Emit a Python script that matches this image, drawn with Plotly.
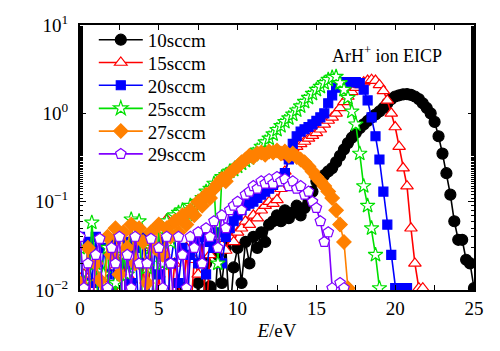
import plotly.graph_objects as go

# Energy grid (eV)
E = [0.0, 0.25, 0.5, 0.75, 1.0, 1.25, 1.5, 1.75, 2.0, 2.25,
     2.5, 2.75, 3.0, 3.25, 3.5, 3.75, 4.0, 4.25, 4.5, 4.75,
     5.0, 5.25, 5.5, 5.75, 6.0, 6.25, 6.5, 6.75, 7.0, 7.25,
     7.5, 7.75, 8.0, 8.25, 8.5, 8.75, 9.0, 9.25, 9.5, 9.75,
     10.0, 10.25, 10.5, 10.75, 11.0, 11.25, 11.5, 11.75, 12.0, 12.25,
     12.5, 12.75, 13.0, 13.25, 13.5, 13.75, 14.0, 14.25, 14.5, 14.75,
     15.0, 15.25, 15.5, 15.75, 16.0, 16.25, 16.5, 16.75, 17.0, 17.25,
     17.5, 17.75, 18.0, 18.25, 18.5, 18.75, 19.0, 19.25, 19.5, 19.75,
     20.0, 20.25, 20.5, 20.75, 21.0, 21.25, 21.5, 21.75, 22.0, 22.25,
     22.5, 22.75, 23.0, 23.25, 23.5, 23.75, 24.0, 24.25, 24.5, 24.75,
     25.0]

# 0.005 = zero signal (below the axis range)
y_10sccm = [0.005, 0.005, 0.005, 0.005, 0.005, 0.005, 0.005, 0.005, 0.005, 0.005,
            0.005, 0.005, 0.005, 0.005, 0.005, 0.005, 0.005, 0.005, 0.005, 0.005,
            0.005, 0.005, 0.005, 0.005, 0.005, 0.005, 0.0105, 0.005, 0.005, 0.005,
            0.012, 0.005, 0.02, 0.011, 0.005, 0.025, 0.012, 0.03, 0.005, 0.018,
            0.03, 0.012, 0.035, 0.02, 0.04, 0.03, 0.045, 0.035, 0.055, 0.06,
            0.07, 0.06, 0.08, 0.065, 0.075, 0.09, 0.07, 0.085, 0.1, 0.13,
            0.17, 0.19, 0.2, 0.22, 0.24, 0.28, 0.33, 0.39, 0.46, 0.53,
            0.6, 0.68, 0.75, 0.82, 0.9, 0.97, 1.05, 1.15, 1.3, 1.45,
            1.55, 1.6, 1.64, 1.65, 1.62, 1.55, 1.45, 1.3, 1.15, 1.0,
            0.8, 0.55, 0.35, 0.21, 0.12, 0.06, 0.037, 0.037, 0.022, 0.02,
            0.0105]

y_15sccm = [0.005, 0.015, 0.005, 0.005, 0.02, 0.005, 0.012, 0.005, 0.005, 0.018,
            0.005, 0.025, 0.005, 0.013, 0.005, 0.005, 0.02, 0.005, 0.03, 0.005,
            0.015, 0.005, 0.063, 0.005, 0.02, 0.012, 0.005, 0.03, 0.005, 0.022,
            0.015, 0.035, 0.005, 0.025, 0.04, 0.03, 0.032, 0.028, 0.04, 0.035,
            0.045, 0.05, 0.06, 0.055, 0.07, 0.065, 0.08, 0.09, 0.1, 0.095,
            0.105, 0.14, 0.22, 0.32, 0.4, 0.42, 0.45, 0.48, 0.52, 0.56,
            0.6, 0.66, 0.75, 0.83, 0.9, 1.0, 1.15, 1.35, 1.55, 1.75,
            1.95, 2.1, 2.25, 2.35, 2.4, 2.35, 2.1, 1.8, 1.4, 1.0,
            0.7, 0.42, 0.24, 0.15, 0.05, 0.02, 0.0105, 0.0105, 0.005, 0.005,
            0.005, 0.005, 0.005, 0.005, 0.005, 0.005, 0.005, 0.005, 0.005, 0.005,
            0.005]

y_20sccm = [0.04, 0.005, 0.035, 0.012, 0.04, 0.005, 0.03, 0.015, 0.005, 0.038,
            0.02, 0.005, 0.035, 0.012, 0.03, 0.005, 0.04, 0.02, 0.005, 0.03,
            0.015, 0.035, 0.005, 0.02, 0.04, 0.012, 0.03, 0.005, 0.025, 0.035,
            0.02, 0.04, 0.015, 0.035, 0.03, 0.045, 0.02, 0.04, 0.05, 0.06,
            0.07, 0.08, 0.09, 0.095, 0.1, 0.11, 0.12, 0.13, 0.14, 0.155,
            0.17, 0.19, 0.21, 0.3, 0.45, 0.55, 0.62, 0.66, 0.7, 0.75,
            0.82, 0.9, 1.0, 1.3, 1.6, 1.95, 2.2, 2.25, 2.25, 2.25,
            2.25, 2.2, 1.85, 1.4, 0.9, 0.55, 0.3, 0.13, 0.055, 0.025,
            0.0105, 0.005, 0.0105, 0.0105, 0.005, 0.005, 0.005, 0.005, 0.005, 0.005,
            0.005, 0.005, 0.005, 0.005, 0.005, 0.005, 0.005, 0.005, 0.005, 0.005,
            0.005]

y_25sccm = [0.03, 0.012, 0.005, 0.058, 0.02, 0.005, 0.015, 0.03, 0.005, 0.012,
            0.005, 0.025, 0.015, 0.063, 0.02, 0.06, 0.005, 0.018, 0.03, 0.005,
            0.05, 0.02, 0.06, 0.035, 0.07, 0.075, 0.08, 0.06, 0.09, 0.085,
            0.1, 0.11, 0.13, 0.14, 0.16, 0.02, 0.19, 0.2, 0.22, 0.23,
            0.25, 0.27, 0.29, 0.31, 0.34, 0.38, 0.42, 0.47, 0.52, 0.58,
            0.65, 0.72, 0.8, 0.88, 0.97, 1.08, 1.2, 1.35, 1.5, 1.67,
            1.85, 2.0, 2.2, 2.4, 2.55, 2.6, 2.2, 1.85, 1.5, 1.05,
            0.75, 0.35, 0.15, 0.09, 0.05, 0.025, 0.0105, 0.005, 0.005, 0.005,
            0.005, 0.005, 0.005, 0.005, 0.005, 0.005, 0.005, 0.005, 0.005, 0.005,
            0.005, 0.005, 0.005, 0.005, 0.005, 0.005, 0.005, 0.005, 0.005, 0.005,
            0.005]

y_27sccm = [0.012, 0.005, 0.03, 0.005, 0.02, 0.013, 0.005, 0.04, 0.025, 0.05,
            0.015, 0.045, 0.03, 0.055, 0.02, 0.05, 0.035, 0.012, 0.045, 0.03,
            0.055, 0.025, 0.05, 0.04, 0.06, 0.045, 0.07, 0.055, 0.08, 0.07,
            0.1, 0.09, 0.12, 0.11, 0.14, 0.16, 0.18, 0.17, 0.21, 0.23,
            0.25, 0.28, 0.3, 0.33, 0.32, 0.35, 0.36, 0.34, 0.37, 0.36,
            0.38, 0.35, 0.37, 0.33, 0.35, 0.32, 0.3, 0.28, 0.25, 0.22,
            0.19, 0.17, 0.15, 0.13, 0.11, 0.08, 0.055, 0.035, 0.0105, 0.005,
            0.005, 0.005, 0.005, 0.005, 0.005, 0.005, 0.005, 0.005, 0.005, 0.005,
            0.005, 0.005, 0.005, 0.005, 0.005, 0.005, 0.005, 0.005, 0.005, 0.005,
            0.005, 0.005, 0.005, 0.005, 0.005, 0.005, 0.005, 0.005, 0.005, 0.005,
            0.005]

y_29sccm = [0.04, 0.0105, 0.02, 0.005, 0.025, 0.038, 0.005, 0.0105, 0.03, 0.02,
            0.04, 0.005, 0.025, 0.0105, 0.04, 0.02, 0.005, 0.02, 0.038, 0.005,
            0.03, 0.0105, 0.04, 0.02, 0.005, 0.04, 0.025, 0.0105, 0.04, 0.03,
            0.045, 0.02, 0.05, 0.04, 0.06, 0.03, 0.07, 0.05, 0.08, 0.09,
            0.1, 0.08, 0.12, 0.13, 0.15, 0.14, 0.17, 0.16, 0.18, 0.16,
            0.19, 0.17, 0.18, 0.15, 0.17, 0.14, 0.15, 0.12, 0.13, 0.1,
            0.085, 0.06, 0.035, 0.045, 0.0105, 0.005, 0.012, 0.0105, 0.005, 0.005,
            0.005, 0.005, 0.005, 0.005, 0.005, 0.005, 0.005, 0.005, 0.005, 0.005,
            0.005, 0.005, 0.005, 0.005, 0.005, 0.005, 0.005, 0.005, 0.005, 0.005,
            0.005, 0.005, 0.005, 0.005, 0.005, 0.005, 0.005, 0.005, 0.005, 0.005,
            0.005]

series_names = ["10sccm", "15sccm", "20sccm", "25sccm", "27sccm", "29sccm"]
series_values = [y_10sccm, y_15sccm, y_20sccm, y_25sccm, y_27sccm, y_29sccm]
line_colors = ["#000000", "#ff0000", "#0000ff", "#00e000", "#ff8000", "#8000ff"]
marker_symbols = ["circle", "triangle-up", "square", "star", "diamond", "pentagon"]
marker_fills = ["#000000", "#ffffff", "#0000ff", "#ffffff", "#ff8000", "#ffffff"]
marker_sizes = [11, 11, 9, 11, 11, 11]

legend_y = [0.944, 0.858, 0.772, 0.685, 0.599, 0.513]
legend_keys = ["legend", "legend2", "legend3", "legend4", "legend5", "legend6"]

FONT = "Liberation Serif"

fig = go.Figure()
for i, name in enumerate(series_names):
    fig.add_trace(go.Scatter(
        x=E, y=series_values[i], name=name, mode="lines+markers",
        line=dict(color=line_colors[i], width=1.6),
        marker=dict(symbol=marker_symbols[i], size=marker_sizes[i],
                    color=marker_fills[i],
                    line=dict(color=line_colors[i], width=1.2)),
        legend=legend_keys[i],
    ))

layout_legends = {}
for i, key in enumerate(legend_keys):
    layout_legends[key] = dict(
        x=0.035, xanchor="left", y=legend_y[i], yanchor="middle",
        bgcolor="rgba(0,0,0,0)", borderwidth=0,
        font=dict(family=FONT, size=19, color="black"),
        itemwidth=44,
    )

fig.update_layout(
    width=500, height=351,
    margin=dict(l=80, r=26, t=23, b=61),
    paper_bgcolor="white", plot_bgcolor="white",
    showlegend=True,
    font=dict(family=FONT, size=19, color="black"),
    **layout_legends,
    annotations=[dict(
        text="ArH<sup>+</sup> ion EICP", x=0.78, y=0.89, xref="paper", yref="paper",
        xanchor="center", yanchor="middle",
        showarrow=False, font=dict(family=FONT, size=18, color="black"),
    )],
)

fig.update_xaxes(
    range=[0, 25], tickvals=[0, 5, 10, 15, 20, 25],
    ticks="inside", ticklen=5, tickwidth=1.2, tickcolor="black",
    minor=dict(dtick=2.5, tick0=0, ticks="inside", ticklen=5, tickcolor="black"),
    showline=True, linecolor="black", linewidth=2, mirror="ticks",
    showgrid=False, zeroline=False,
    tickfont=dict(family=FONT, size=19),
    title=dict(text="<i>E</i>/eV", font=dict(family=FONT, size=19), standoff=6),
)

fig.update_yaxes(
    type="log", range=[-2, 1],
    tickvals=[0.01, 0.1, 1, 10],
    ticktext=["10<sup>−2</sup>", "10<sup>−1</sup>", "10<sup>0</sup>", "10<sup>1</sup>"],
    ticks="inside", ticklen=6, tickwidth=1.2, tickcolor="black",
    minor=dict(ticks="inside", ticklen=3, tickcolor="black", showgrid=False),
    showline=True, linecolor="black", linewidth=2, mirror="ticks",
    showgrid=False, zeroline=False,
    tickfont=dict(family=FONT, size=19),
    ticklabelstandoff=6,
)

fig.write_html("out.html")
